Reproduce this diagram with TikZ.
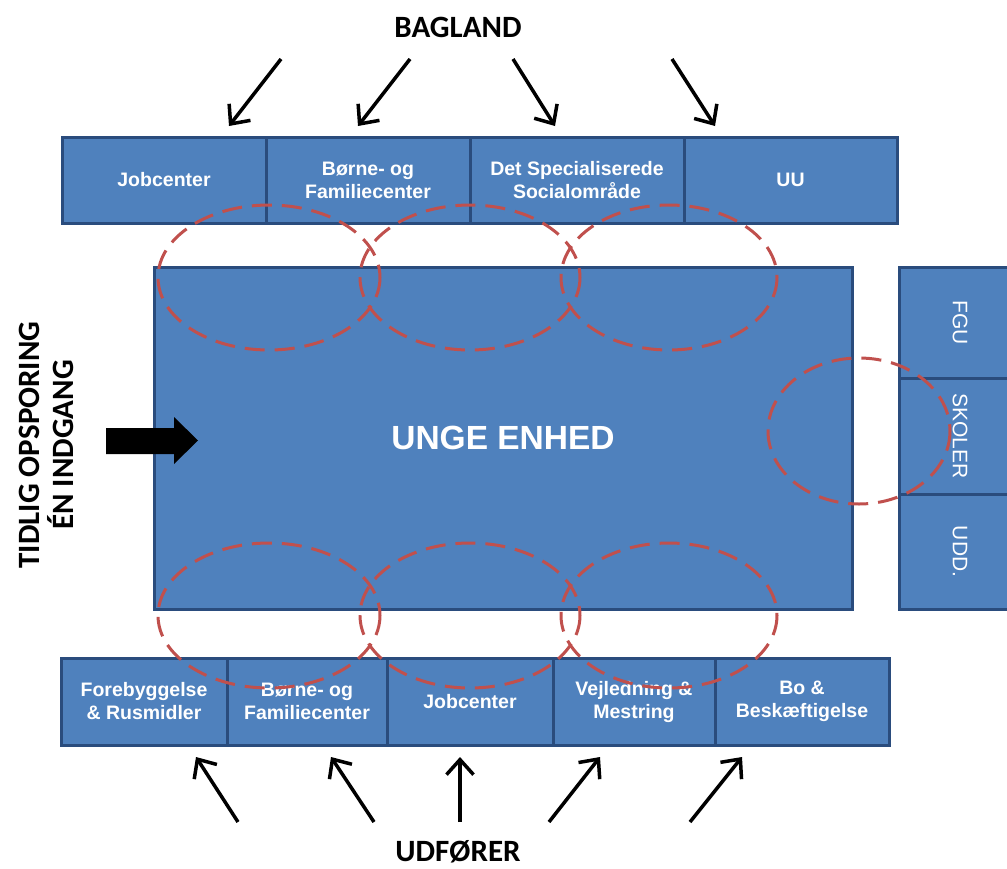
\documentclass[tikz,border=0pt]{standalone}
\usepackage{fontspec}
\usepackage{graphicx}
\setmainfont{Liberation Sans}
\newfontfamily\calfont{Carlito}
\usetikzlibrary{arrows.meta}
\definecolor{boxfill}{HTML}{4F81BD}
\definecolor{boxline}{HTML}{2A4C7D}
\definecolor{dashred}{HTML}{C0504D}
\tikzset{
  box/.style={draw=boxline, fill=boxfill, line width=3pt, text=white, align=center,
    inner sep=0pt, font=\bfseries\fontsize{19.5}{23}\selectfont},
  sidebox/.style={draw=boxline, fill=boxfill, line width=3pt, text=white, align=center,
    inner sep=0pt, font=\fontsize{21}{24}\selectfont},
  title/.style={font=\calfont\bfseries\fontsize{31}{34}\selectfont, text=black, inner sep=0pt},
  feed/.style={draw=black, line width=3.5pt, -{Straight Barb[length=15pt,width=27pt,line width=3.5pt]}},
  overlap/.style={draw=dashred, line width=3pt, dash pattern=on 20pt off 10pt}
}
\begin{document}
\begin{tikzpicture}[x=1pt,y=-1pt]
\useasboundingbox (0,0) rectangle (1007,868);
\begin{scope}
\clip (0,0) rectangle (1007,868);
% main box
\node[box, minimum width=698, minimum height=342, font=\bfseries\fontsize{33.5}{38}\selectfont] (main) at (503,438) {\raisebox{-3pt}{UNGE ENHED}};
% top boxes
\node[box, minimum width=204, minimum height=86] (t1) at (164,180) {Jobcenter};
\node[box, minimum width=204, minimum height=86] (t2) at (368,180) {Børne- og\\Familiecenter};
\node[box, minimum width=214, minimum height=86] (t3) at (577,180) {Det Specialiserede\\Socialområde};
\node[box, minimum width=213, minimum height=86] (t4) at (790.5,180) {UU};
% bottom boxes
\node[box, minimum width=166, minimum height=87] (b1) at (144,701.5) {Forebyggelse\\\& Rusmidler};
\node[box, minimum width=160, minimum height=87] (b2) at (307,701.5) {Børne- og\\Familiecenter};
\node[box, minimum width=166, minimum height=87] (b3) at (470,701.5) {Jobcenter};
\node[box, minimum width=162, minimum height=87] (b4) at (634,701.5) {Vejledning \&\\Mestring};
\node[box, minimum width=174, minimum height=87] (b5) at (802,701.5) {Bo \&\\Beskæftigelse};
% right column
\node[sidebox, minimum width=122, minimum height=111] (r1) at (960,322.5) {\rotatebox{-90}{FGU}};
\node[sidebox, minimum width=122, minimum height=116] (r2) at (960,436) {\rotatebox{-90}{SKOLER}};
\node[sidebox, minimum width=122, minimum height=115] (r3) at (960,551.5) {\rotatebox{-90}{UDD.}};
\end{scope}
% titles
\node[title] (bag) at (458,27) {BAGLAND};
\node[title] (udf) at (458,852) {UDFØRER};
\node[title, rotate=90, align=center] (left) at (46.5,445) {TIDLIG OPSPORING\\ÉN INDGANG};
% block arrow
\fill[black] (106,428) -- (174,428) -- (174,417) -- (198,440.5) -- (174,464) -- (174,454) -- (106,454) -- cycle;
% top arrows
\coordinate (a1s) at (281,59); \coordinate (a1e) at (229,126);
\coordinate (a2s) at (410,59); \coordinate (a2e) at (358,126);
\coordinate (a3s) at (513,59); \coordinate (a3e) at (555,126);
\coordinate (a4s) at (672,59); \coordinate (a4e) at (715,126);
\draw[feed] (a1s) -- (a1e);
\draw[feed] (a2s) -- (a2e);
\draw[feed] (a3s) -- (a3e);
\draw[feed] (a4s) -- (a4e);
% bottom arrows
\coordinate (c1s) at (238,822); \coordinate (c1e) at (196,757);
\coordinate (c2s) at (374,822); \coordinate (c2e) at (331,757);
\coordinate (c3s) at (460,822); \coordinate (c3e) at (460,757);
\coordinate (c4s) at (549,822); \coordinate (c4e) at (600,757);
\coordinate (c5s) at (690,822); \coordinate (c5e) at (742,757);
\draw[feed] (c1s) -- (c1e);
\draw[feed] (c2s) -- (c2e);
\draw[feed] (c3s) -- (c3e);
\draw[feed] (c4s) -- (c4e);
\draw[feed] (c5s) -- (c5e);
% dashed overlap ellipses
\draw[overlap] (269,277.5) ellipse [x radius=111, y radius=72.5];
\draw[overlap] (470,277.5) ellipse [x radius=110, y radius=72.5];
\draw[overlap] (669,277.5) ellipse [x radius=108, y radius=72.5];
\draw[overlap] (269,615.5) ellipse [x radius=111, y radius=72.5];
\draw[overlap] (470,615.5) ellipse [x radius=110, y radius=72.5];
\draw[overlap] (669,615.5) ellipse [x radius=108, y radius=72.5];
\draw[overlap] (859,431) ellipse [x radius=91, y radius=73];
\end{tikzpicture}
\end{document}
